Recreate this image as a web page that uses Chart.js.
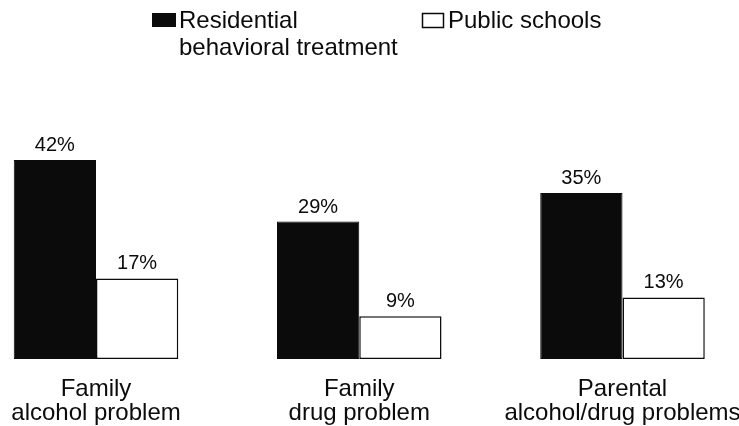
<!DOCTYPE html>
<html>
<head>
<meta charset="utf-8">
<script src="https://cdn.jsdelivr.net/npm/chart.js@4"></script>
<style>
  html, body { margin: 0; padding: 0; background: #fff; }
  #wrap { width: 739px; height: 426px; position: relative; }
</style>
</head>
<body>
<div id="wrap"><canvas id="barChart"></canvas></div>
<script>
// data
const categories = [
    ["Family", "alcohol problem"],
    ["Family", "drug problem"],
    ["Parental", "alcohol/drug problems"],
];
const residential = [42, 29, 35];
const publicSchools = [17, 9, 13];
const seriesNames = [["Residential", "behavioral treatment"], ["Public schools"]];

const ink = "#0b0b0b";
const fontFamily = "'Liberation Sans', Arial, Helvetica, sans-serif";

// percentage labels above each bar
const valueLabels = {
    id: "valueLabels",
    afterDatasetsDraw(chart) {
        const ctx = chart.ctx;
        ctx.save();
        ctx.fillStyle = ink;
        ctx.font = "20px " + fontFamily;
        ctx.textAlign = "center";
        ctx.textBaseline = "alphabetic";
        chart.data.datasets.forEach((ds, i) => {
            chart.getDatasetMeta(i).data.forEach((bar, j) => {
                ctx.fillText(ds.data[j] + "%", bar.x, bar.y - 9);
            });
        });
        ctx.restore();
    },
};

// legend at the top, the first label wraps onto two lines
const topLegend = {
    id: "topLegend",
    afterDraw(chart) {
        const ctx = chart.ctx;
        ctx.save();
        ctx.font = "24px " + fontFamily;
        ctx.textBaseline = "alphabetic";
        ctx.fillStyle = ink;
        // dark box
        ctx.fillRect(152, 13, 24, 14);
        ctx.fillText(seriesNames[0][0], 179, 28);
        ctx.fillText(seriesNames[0][1], 179, 55);
        // open box
        ctx.fillStyle = "#fff";
        ctx.fillRect(422, 13, 22, 15);
        ctx.strokeStyle = ink;
        ctx.lineWidth = 1.5;
        ctx.strokeRect(422.5, 13.5, 21, 14);
        ctx.fillStyle = ink;
        ctx.fillText(seriesNames[1][0], 448, 28);
        ctx.restore();
    },
};

const ctx = document.getElementById("barChart").getContext("2d");
new Chart(ctx, {
    type: "bar",
    data: {
        labels: categories,
        datasets: [
            {
                label: "Residential behavioral treatment",
                data: residential,
                backgroundColor: ink,
                borderColor: ink,
                borderWidth: 1,
                borderSkipped: false,
                clip: false,
            },
            {
                label: "Public schools",
                data: publicSchools,
                backgroundColor: "#ffffff",
                borderColor: ink,
                borderWidth: 1.5,
                borderSkipped: false,
                clip: false,
            },
        ],
    },
    options: {
        responsive: true,
        maintainAspectRatio: false,
        animation: false,
        categoryPercentage: 0.625,
        barPercentage: 1,
        layout: {
            padding: { top: 122, left: 96, right: 116.5, bottom: 0 },
        },
        plugins: {
            legend: { display: false },
            tooltip: { enabled: false },
        },
        scales: {
            x: {
                offset: false,
                grid: { display: false, drawTicks: false, offset: false },
                border: { display: false },
                ticks: {
                    color: ink,
                    padding: 18,
                    maxRotation: 0,
                    autoSkip: false,
                    font: { family: fontFamily, size: 24, lineHeight: "24.5px" },
                },
                // keep the axis to the label block and let labels overhang the sides
                afterFit(scale) {
                    scale.height = 67;
                    scale.paddingLeft = 0;
                    scale.paddingRight = 0;
                },
            },
            y: {
                display: false,
                min: 0,
                max: 50,
            },
        },
    },
    plugins: [valueLabels, topLegend],
});
</script>
</body>
</html>
